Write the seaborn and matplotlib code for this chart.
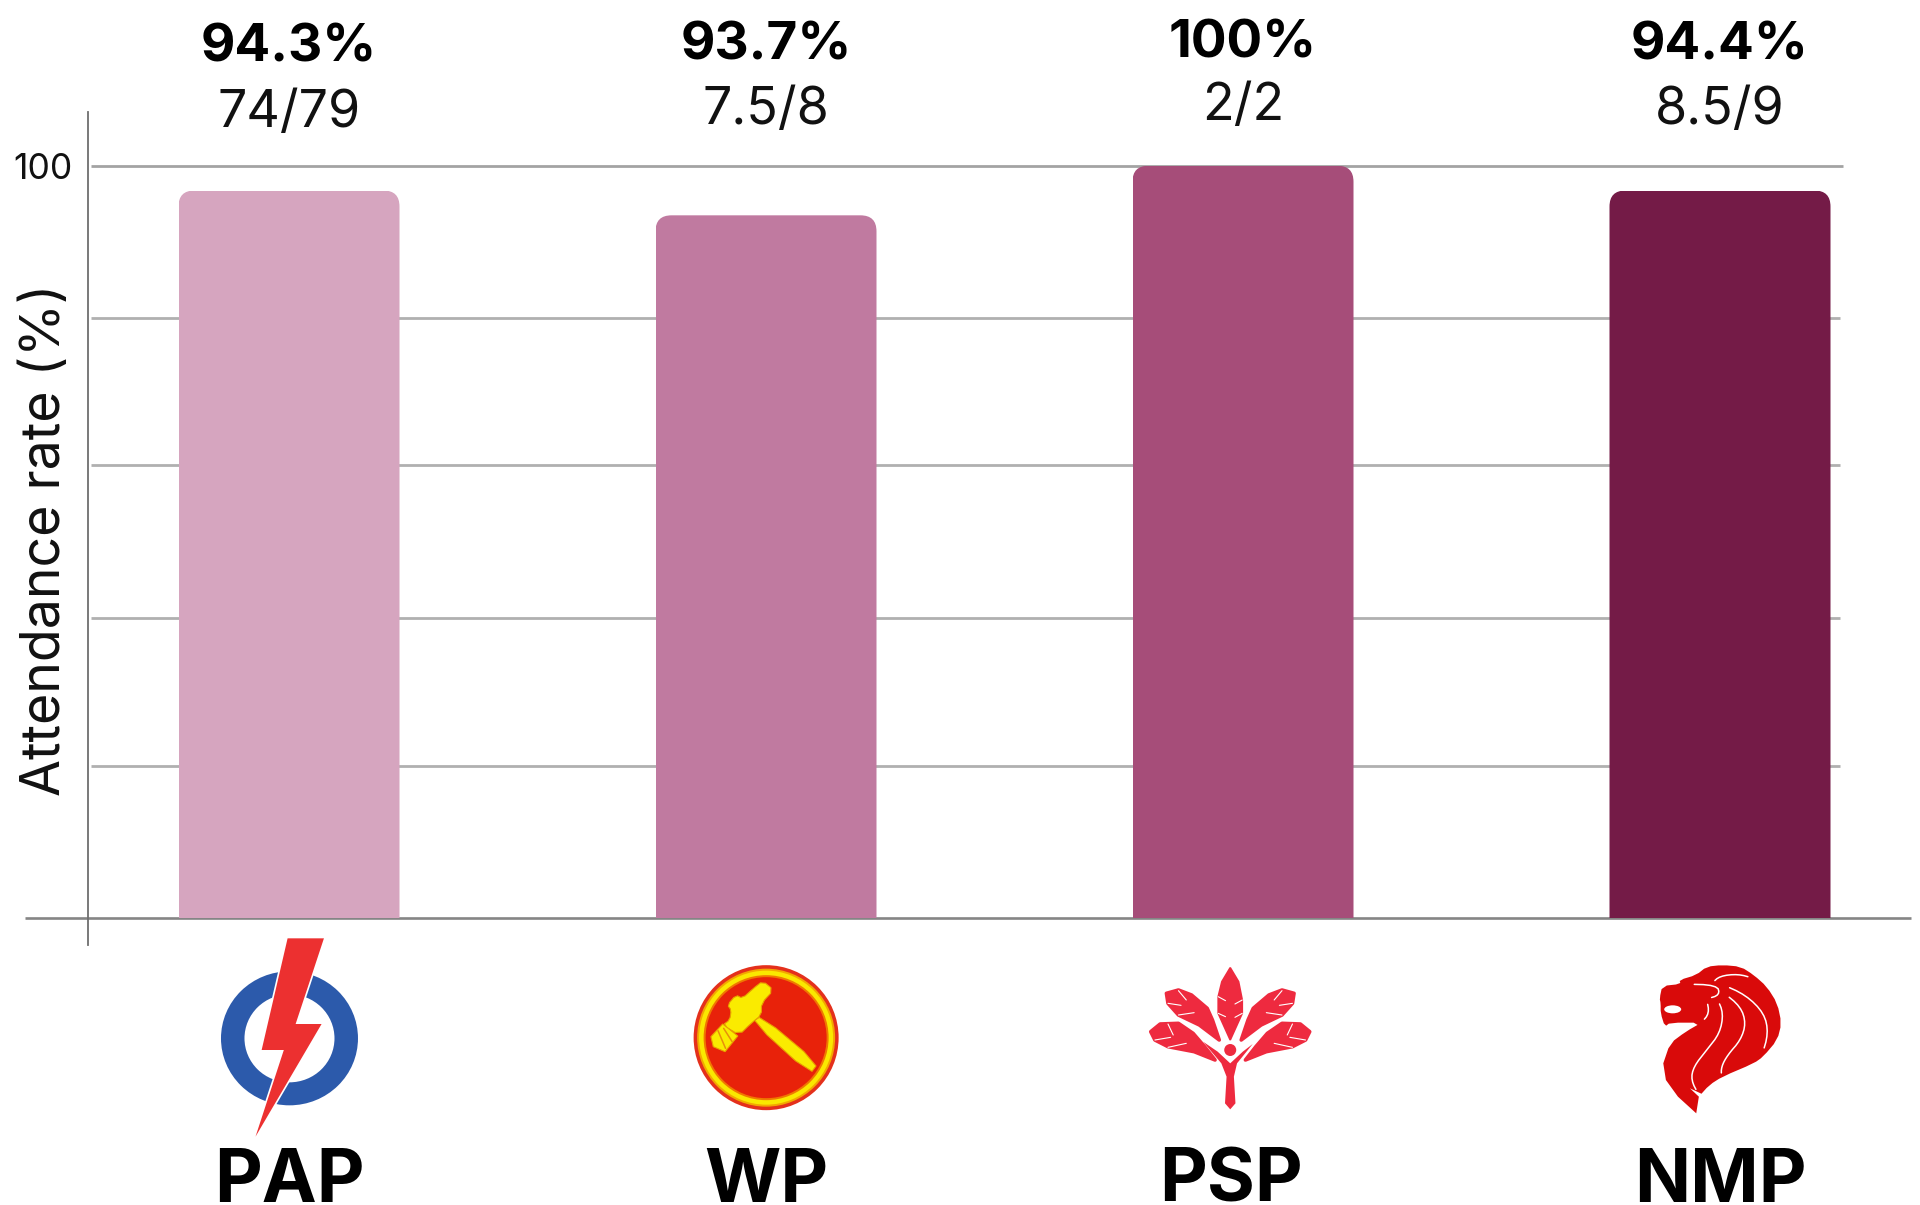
import numpy as np
import pandas as pd
import seaborn as sns
import matplotlib
matplotlib.use("Agg")
import matplotlib.pyplot as plt
from matplotlib.patches import FancyBboxPatch, Polygon, Ellipse
from matplotlib.transforms import ScaledTranslation

# ---- data ----
parties = ["PAP", "WP", "PSP", "NMP"]
bar_values = [96.7, 93.4, 100, 96.7]
rate_labels = ["94.3%", "93.7%", "100%", "94.4%"]
count_labels = ["74/79", "7.5/8", "2/2", "8.5/9"]
bar_colors = ["#D6A5BF", "#C07AA0", "#A64D79", "#741B47"]
grid_values = [20.2, 39.8, 60.2, 79.8, 100]
tick_labels = ["", "", "", "", "100"]
y_title = "Attendance rate (%)"

W, H = 1920, 1205
sns.set_theme(style="white")
plt.rcParams["font.family"] = ["Inter", "DejaVu Sans"]
fig = plt.figure(figsize=(W / 100, H / 100), dpi=100, facecolor="white")

# layout in pixels
ax_l, ax_r, ax_t, ax_b = 88, 1910, 112, 945
x0, dx = 289, 477
base_y, unit = 917.5, 7.518
ax = fig.add_axes([ax_l / W, 1 - ax_b / H, (ax_r - ax_l) / W, (ax_b - ax_t) / H])

df = pd.DataFrame({"party": parties, "value": bar_values})
sns.barplot(data=df, x="party", y="value", hue="party", palette=bar_colors,
            width=221 / dx, legend=False, saturation=1, ax=ax, zorder=3)
ax.set_xlim((ax_l - x0) / dx, (ax_r - x0) / dx)
ax.set_ylim((base_y - ax_b) / unit, (base_y - ax_t) / unit)

# rounded top corners
for bar in ax.patches:
    r = 16 / dx
    clip = FancyBboxPatch((bar.get_x(), -6), bar.get_width(), bar.get_height() + 6,
                          boxstyle=f"round,pad=0,rounding_size={r}",
                          mutation_aspect=(dx / unit), transform=ax.transData)
    bar.set_clip_path(clip)
    bar.set_linewidth(0)

# grid + axis lines
for v in grid_values:
    xe = 1843 if v == 100 else 1840
    ax.hlines(v, (91 - x0) / dx, (xe - x0) / dx, color="#a3a3a3" if v == 100 else "#b0b0b0",
              lw=2.0, zorder=1)
ax.hlines(0, (25 - x0) / dx, (1911 - x0) / dx, color="#858585", lw=1.9, zorder=2, clip_on=False)
sns.despine(ax=ax, left=False, bottom=True, right=True, top=True)
ax.spines["left"].set_color("#6e6e6e")
ax.spines["left"].set_linewidth(1.3)

ax.set_yticks(grid_values)
ax.set_yticklabels(tick_labels, fontsize=25.5, color="#111111")
ax.tick_params(axis="y", length=0, pad=11)
ax.set_xlabel("")
ax.set_ylabel(y_title, fontsize=38.6, color="#111111")
ax.yaxis.set_label_coords((71 - ax_l) / (ax_r - ax_l), (ax_b - 540) / (ax_b - ax_t))
ax.set_xticks(range(len(parties)))
ax.set_xticklabels(parties, fontsize=53, fontweight="bold", color="#000000")
ax.tick_params(axis="x", length=0, pad=146)
psp_label = ax.get_xticklabels()[2]
psp_label.set_transform(psp_label.get_transform() + ScaledTranslation(-0.12, 0, fig.dpi_scale_trans))

# overlay in pixel coordinates for annotations and logos
ov = fig.add_axes([0, 0, 1, 1], facecolor="none")
ov.set_xlim(0, W)
ov.set_ylim(H, 0)
ov.axis("off")

rate_base = [62, 60, 58, 60]
count_base = [127, 124, 120, 124]
for i in range(len(parties)):
    cx = x0 + i * dx
    ov.text(cx, rate_base[i], rate_labels[i], ha="center", va="baseline", fontsize=38.2,
            fontweight="bold", color="#000000")
    ov.text(cx, count_base[i], count_labels[i], ha="center", va="baseline", fontsize=37.4,
            color="#111111")


def chaikin(pts, n=2, closed=True):
    p = np.asarray(pts, float)
    for _ in range(n):
        q = np.roll(p, -1, axis=0) if closed else p[1:]
        a = p if closed else p[:-1]
        new = np.empty((2 * len(a), 2))
        new[0::2] = 0.75 * a + 0.25 * q
        new[1::2] = 0.25 * a + 0.75 * q
        p = new
    return p


def c2(pts):
    p = np.asarray(pts, float)
    return np.c_[180 + p[:, 0] / 2.119, 900 + p[:, 1] / 3]


def c3(pts):
    p = np.asarray(pts, float)
    return np.c_[1100 + p[:, 0] / 1.912, 900 + p[:, 1] / 3]


# PAP logo
BLUE, RED = "#2C5AAB", "#EC3030"
pc = c2([[232, 415]])[0]
ov.add_patch(Ellipse(pc, 137, 134, fc=BLUE, ec="none"))
ov.add_patch(Ellipse(pc, 90, 88, fc="white", ec="none"))
bolt = c2([[228, 115], [305, 115], [245, 372], [300, 372], [160, 710], [220, 450], [173, 450]])
ov.add_patch(Polygon(bolt, closed=True, fc="white", ec="white", lw=2.4, joinstyle="round"))
ov.add_patch(Polygon(bolt, closed=True, fc=RED, ec="none"))

# WP logo
wc = c2([[1242, 413]])[0]
ov.add_patch(Ellipse(wc, 145, 145, fc="#E4301C", ec="none"))
ov.add_patch(Ellipse(wc, 138, 138, fc="#F3A800", ec="none"))
ov.add_patch(Ellipse(wc, 134, 134, fc="#FAE800", ec="none"))
ov.add_patch(Ellipse(wc, 125, 125, fc="#F07800", ec="none"))
ov.add_patch(Ellipse(wc, 121, 121, fc="#E8220A", ec="none"))
YEL = "#FAEB00"
handle = chaikin(c2([[1213, 365], [1232, 348], [1352, 490], [1335, 522]]), 1)
ov.add_patch(Polygon(handle, closed=True, fc=YEL, ec="#E8A000", lw=0.8))
head = chaikin(c2([[1215, 265], [1235, 243], [1258, 270], [1232, 310], [1232, 345],
                   [1210, 370], [1185, 405], [1150, 375], [1165, 360], [1168, 330],
                   [1160, 315], [1178, 285], [1192, 295]]), 1)
ov.add_patch(Polygon(head, closed=True, fc=YEL, ec="#E8A000", lw=0.8))
comb = c2([[1125, 410], [1150, 372], [1182, 408], [1155, 455], [1130, 440]])
ov.add_patch(Polygon(comb, closed=True, fc=YEL, ec="#E8A000", lw=0.8))
for seg in ([[1140, 392], [1156, 445]], [[1152, 385], [1170, 425]]):
    s = c2(seg)
    ov.plot(s[:, 0], s[:, 1], color="#E8900A", lw=1.1)

# PSP logo
PSP = "#EE2A3F"
leaf_c = [[249, 203], [265, 245], [272, 300], [272, 340], [249, 420], [226, 340], [226, 290], [233, 245]]
leaf_u = [[127, 280], [150, 270], [175, 285], [205, 325], [215, 360], [228, 420], [190, 375], [150, 345], [130, 310]]
leaf_l = [[97, 395], [115, 372], [150, 370], [178, 400], [200, 440], [220, 480], [180, 455], [130, 440], [105, 420]]
body = [[197, 425], [225, 455], [249, 490], [273, 455], [292, 432], [262, 490], [256, 530],
        [259, 610], [249, 628], [239, 610], [242, 530], [232, 490]]
mirror = lambda pts: [[498 - x, y] for x, y in pts]
ov.add_patch(Polygon(c3(leaf_c), closed=True, fc=PSP, ec=PSP, lw=1.2))
for lf in (leaf_u, mirror(leaf_u), leaf_l, mirror(leaf_l)):
    ov.add_patch(Polygon(c3(lf), closed=True, fc=PSP, ec=PSP, lw=2.6, joinstyle="round"))
ov.add_patch(Polygon(c3(body), closed=True, fc=PSP, ec="none"))
hc = c3([[249, 450]])[0]
ov.add_patch(Ellipse(hc, 12, 12, fc=PSP, ec="none"))
notches = [[[150, 272], [165, 300]], [[130, 310], [155, 316]],
           [[150, 345], [180, 338]], [[130, 372], [140, 405]],
           [[105, 420], [135, 412]], [[130, 442], [165, 430]],
           [[226, 290], [240, 302]], [[272, 300], [258, 312]], [[226, 340], [240, 350]],
           [[272, 340], [258, 352]]]
for seg in notches + [mirror(n) for n in notches[:6]]:
    s = c3(seg)
    ov.plot(s[:, 0], s[:, 1], color="white", lw=0.8)

# NMP logo
LION = "#D90A0A"
lion = [[1077, 490], [1090, 430], [1120, 395], [1150, 368],
        [1090, 368], [1080, 380], [1072, 340], [1072, 310], [1070, 295], [1075, 258], [1110, 252],
        [1108, 240], [1140, 225], [1160, 200], [1190, 195], [1225, 200], [1250, 225], [1275, 260],
        [1295, 310], [1303, 370], [1295, 420], [1268, 470], [1250, 490], [1190, 530], [1165, 555],
        [1145, 590]]
tail = [[1145, 590], [1140, 640], [1105, 590], [1082, 540], [1077, 490]]
lp = np.vstack([chaikin(c3(lion), 1), c3(tail)])
ov.add_patch(Polygon(lp, closed=True, fc=LION, ec="none"))
mane_lines = [
    [[1180, 295], [1192, 340], [1185, 400], [1160, 450], [1135, 500], [1130, 540], [1145, 585]],
    [[1190, 275], [1225, 320], [1235, 370], [1225, 420], [1200, 465], [1188, 500], [1188, 530]],
    [[1185, 250], [1235, 285], [1270, 340], [1278, 400], [1265, 470]],
    [[1170, 250], [1185, 228], [1220, 222], [1250, 235]],
    [[1110, 252], [1180, 255], [1185, 285], [1160, 297]],
    [[1160, 297], [1165, 340], [1150, 368]],
]
for ln in mane_lines:
    s = chaikin(c3(ln), 2, closed=False)
    ov.plot(s[:, 0], s[:, 1], color="white", lw=1.1, solid_capstyle="round")
ec = c3([[1095, 328]])[0]
ov.add_patch(Ellipse(ec, 17, 8, fc="white", ec="none"))

fig.savefig("out.png", dpi=100, facecolor="white")
